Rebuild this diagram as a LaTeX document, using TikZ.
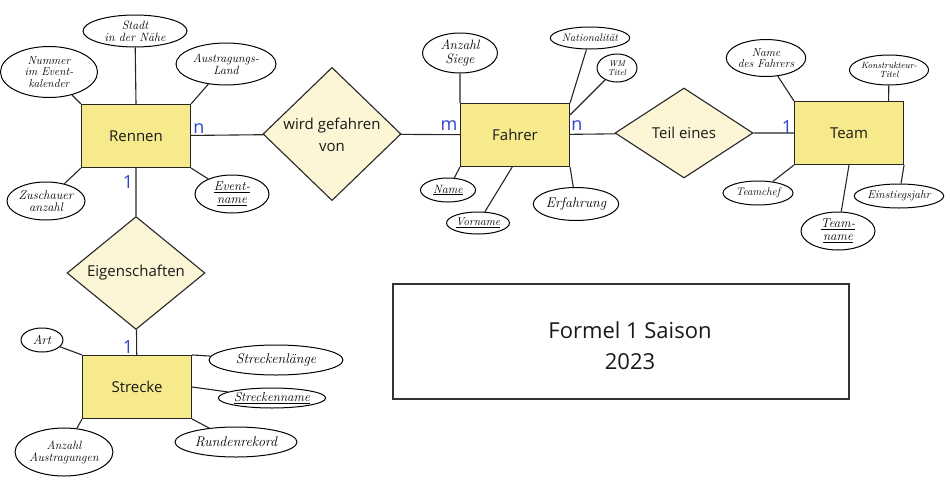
\documentclass[tikz,border=0pt]{standalone}
\usepackage{fontspec}
\newfontfamily\erfont{Open Sans}
\usetikzlibrary{shapes.geometric}

\definecolor{entyellow}{HTML}{F7EA8C}
\definecolor{relyellow}{HTML}{FCF6D6}
\definecolor{cardblue}{HTML}{2B43CF}

\begin{document}
\begin{tikzpicture}[x=1pt,y=-1pt,
  entity/.style={draw=black!85,fill=entyellow,line width=1.1pt,minimum width=109pt,minimum height=63pt,text=black!90,font=\erfont\fontsize{15}{18}\selectfont},
  rel/.style={diamond,draw=black!85,fill=relyellow,line width=1.1pt,minimum width=138pt,minimum height=90pt,inner sep=0pt,align=center,text=black!90,font=\erfont\fontsize{15}{22}\selectfont},
  attr/.style={ellipse,draw,line width=1pt,inner sep=0pt,align=center,hsize=12},
  hsize/.style={font=\itshape\fontsize{#1}{#1}\selectfont},
  card/.style={text=cardblue,inner sep=0pt,font=\erfont\fontsize{18}{18}\selectfont},
  link/.style={draw=black!85,line width=1.1pt}]
  \useasboundingbox (0,0) rectangle (950,482);

  % entities and relations
  \node[entity] (rennen) at (136,136) {Rennen};
  \node[entity] (fahrer) at (515,135) {Fahrer};
  \node[entity] (team) at (849,133) {Team};
  \node[entity] (strecke) at (137,387) {Strecke};
  \node[rel] (gefahren) at (332,134) {\\[-8pt]wird gefahren\\von};
  \node[rel] (teil) at (684,133) {Teil eines};
  \node[rel] (eigen) at (136,273) {Eigenschaften};
  \draw[link] (rennen) -- (gefahren) -- (fahrer);
  \draw[link] (fahrer) -- (teil) -- (team);
  \draw[link] (rennen) -- (eigen) -- (strecke);

  % cardinalities
  \node[card] (c1) at (199,129) {n};
  \node[card] (c2) at (128,182) {1};
  \node[card] (c3) at (449,126) {m};
  \node[card] (c4) at (577,126) {n};
  \node[card] (c5) at (787,127) {1};
  \node[card] (c6) at (128,347) {1};

  % Rennen
  \node[attr,hsize=11.5,minimum width=97pt,minimum height=51pt] (nummer) at (49,72) {Nummer\\im Event-\\kalender};
  \node[attr,minimum width=104pt,minimum height=32pt] (stadt) at (135,31) {Stadt\\in der N\"ahe};
  \node[attr,minimum width=100pt,minimum height=42pt] (land) at (226,64) {Austragungs-\\Land};
  \node[attr,hsize=12.5,minimum width=78pt,minimum height=38pt] (zuschauer) at (46,201) {Zuschauer\\anzahl};
  \node[attr,hsize=13,minimum width=74pt,minimum height=38pt] (eventname) at (232,194) {\underline{Event-}\\\underline{name}};
  % Fahrer
  \node[attr,hsize=13.5,minimum width=75pt,minimum height=40pt] (siege) at (460,53) {Anzahl\\Siege};
  \node[attr,hsize=11,minimum width=75pt,minimum height=22pt] (nation) at (590,38) {Nationalit\"at};
  \node[attr,hsize=8.5,minimum width=40pt,minimum height=28pt] (wm) at (617,68) {WM\\Titel};
  \node[attr,minimum width=55pt,minimum height=24pt] (name) at (448,190) {\underline{Name}};
  \node[attr,hsize=11.5,minimum width=58pt,minimum height=22pt] (vorname) at (478,223) {\underline{Vorname}};
  \node[attr,hsize=14,minimum width=78pt,minimum height=33pt] (erfahrung) at (576,204) {Erfahrung};
  % Team
  \node[attr,hsize=11.5,minimum width=75pt,minimum height=37pt] (chefname) at (766,58) {Name\\des Fahrers};
  \node[attr,hsize=9,minimum width=66pt,minimum height=30pt] (konstrukteur) at (889,70) {Konstrukteur-\\Titel};
  \node[attr,hsize=11,minimum width=70pt,minimum height=24pt] (teamchef) at (758,193) {Teamchef};
  \node[attr,hsize=11.5,minimum width=87pt,minimum height=24pt] (einstieg) at (899,196) {Einstiegsjahr};
  \node[attr,hsize=13,minimum width=74pt,minimum height=38pt] (teamname) at (838,231) {\underline{Team-}\\\underline{name}};
  % Strecke
  \node[attr,hsize=13,minimum width=42pt,minimum height=24pt] (art) at (42,340) {Art};
  \node[attr,hsize=14,minimum width=134pt,minimum height=30pt] (laenge) at (276,360) {Streckenl\"ange};
  \node[attr,hsize=13,minimum width=104pt,minimum height=20pt] (streckenname) at (272,398) {\underline{Streckenname}};
  \node[attr,hsize=14,minimum width=122pt,minimum height=30pt] (rekord) at (236,442) {Rundenrekord};
  \node[attr,minimum width=92pt,minimum height=48pt] (austragungen) at (64,452) {Anzahl\\Austragungen};

  \foreach \a/\b in {nummer/rennen.north west,stadt/rennen.north,land/rennen.north east,
      zuschauer/rennen.south west,eventname/rennen.south east,
      siege/fahrer.north west,nation/fahrer.north east,wm/fahrer.20,name/fahrer.south west,
      vorname/fahrer.265,erfahrung/fahrer.south east,
      chefname/team.north west,konstrukteur/team.39,teamchef/team.south west,
      einstieg/team.south east,teamname/team.south,
      art/strecke.north west,laenge/strecke.north east,streckenname/strecke.east,
      rekord/strecke.south east,austragungen/strecke.south west}
    \draw[link] (\a) -- (\b);

  % title box
  \node[draw=black!80,line width=1.1pt,minimum width=456pt,minimum height=115pt] (saison) at (621,341.5) {};
  \node[align=center,font=\erfont\fontsize{22}{31}\selectfont,text=black!90] (saisontext) at (630,346) {Formel 1 Saison\\2023};
\end{tikzpicture}
\end{document}
